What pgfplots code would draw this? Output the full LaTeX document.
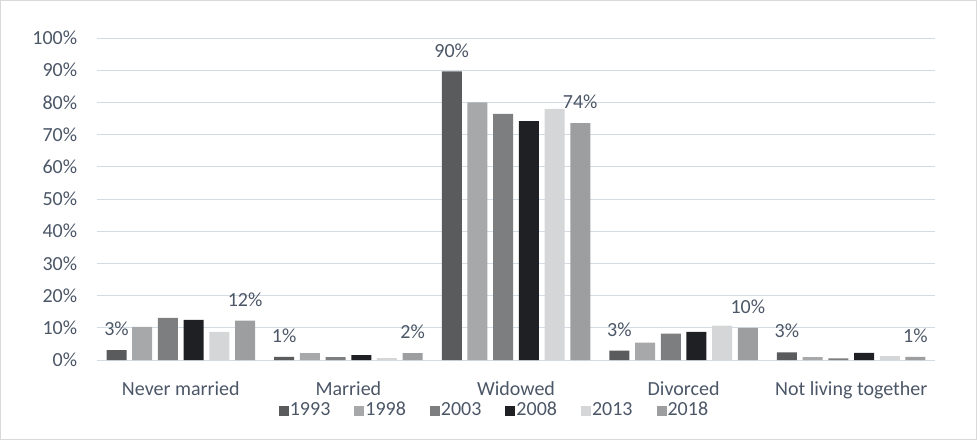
\documentclass[border=0pt]{standalone}
\usepackage{pgfplots}
\pgfplotsset{compat=1.18}
\usepackage{fontspec}
\setmainfont{Carlito}
\definecolor{c1}{HTML}{595B5D}
\definecolor{c2}{HTML}{A6A8A9}
\definecolor{c3}{HTML}{7C7E80}
\definecolor{c4}{HTML}{1E2023}
\definecolor{c5}{HTML}{D5D6D7}
\definecolor{c6}{HTML}{9C9E9F}
\definecolor{txt}{HTML}{4B5667}
\definecolor{gridc}{HTML}{D3DCE4}
\definecolor{framec}{HTML}{D9D9D9}
\pgfplotsset{sqleg/.style={legend image code/.code={\fill[##1] (0pt,-5pt) rectangle (10pt,5pt);}}}
\begin{document}
\fontsize{20}{24}\selectfont
\begin{tikzpicture}
\useasboundingbox (-97pt,-80pt) rectangle (880pt,360pt);
\draw[color=framec, line width=1pt] (-96pt,-79pt) rectangle (879pt,359pt);
\begin{axis}[at={(0pt,0pt)}, anchor=south west, scale only axis,
  width=838pt, height=322pt,
  ymin=0, ymax=100, xmin=-0.5, xmax=4.5,
  ybar=5.7pt, bar width=20pt,
  xtick={0,1,2,3,4},
  xticklabels={Never married,Married,Widowed,Divorced,Not living together},
  ytick={0,10,...,100},
  yticklabel={\pgfmathprintnumber{\tick}\%},
  /pgf/number format/assume math mode=true,
  major tick length=0pt,
  axis line style={draw=none},
  ymajorgrids, grid style={gridc, line width=1pt},
  tick label style={text=txt, font=\fontsize{20}{24}\selectfont},
  yticklabel style={xshift=-13pt},
  xticklabel style={inner sep=0pt, yshift=-21.5pt},
  legend columns=6,
  legend style={at={(0.5,0)}, anchor=north, xshift=-22pt, yshift=-41pt,
    draw=none, fill=none, text=txt, font=\fontsize{20}{24}\selectfont,
    nodes={inner sep=1pt},
    /tikz/every even column/.append style={column sep=23pt},
    inner sep=0pt},
  nodes near coords style={text=txt, font=\fontsize{20}{24}\selectfont, inner sep=2pt, yshift=12pt},
  clip=false,
]
\addplot[fill=c1, draw=none, sqleg, nodes near coords, point meta=explicit symbolic]
  coordinates {(0,3.1)[3\%] (1,1.0)[1\%] (2,89.6)[90\%] (3,2.9)[3\%] (4,2.4)[3\%]};
\addplot[fill=c2, draw=none, sqleg]
  coordinates {(0,10.3) (1,2.1) (2,80.0) (3,5.4) (4,0.9)};
\addplot[fill=c3, draw=none, sqleg]
  coordinates {(0,13.1) (1,0.9) (2,76.4) (3,8.2) (4,0.5)};
\addplot[fill=c4, draw=none, sqleg]
  coordinates {(0,12.5) (1,1.5) (2,74.2) (3,8.7) (4,2.2)};
\addplot[fill=c5, draw=none, sqleg]
  coordinates {(0,8.7) (1,0.6) (2,78.0) (3,10.7) (4,1.2)};
\addplot[fill=c6, draw=none, sqleg, nodes near coords, point meta=explicit symbolic]
  coordinates {(0,12.2)[12\%] (1,2.1)[2\%] (2,73.6)[74\%] (3,10.0)[10\%] (4,1.0)[1\%]};
\legend{1993,1998,2003,2008,2013,2018}
\end{axis}
\end{tikzpicture}
\end{document}
